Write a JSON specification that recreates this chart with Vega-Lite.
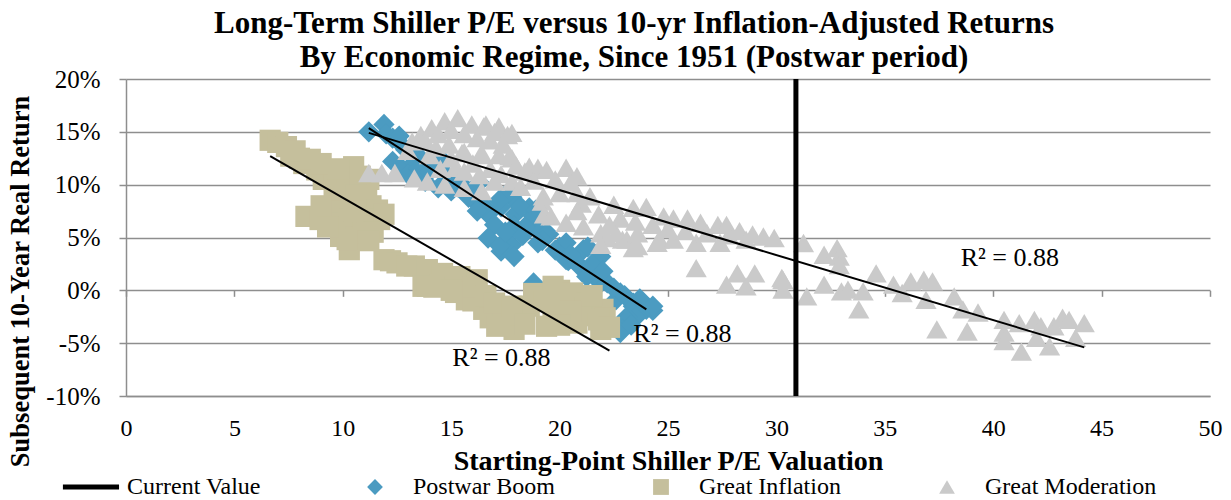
{
  "$schema": "https://vega.github.io/schema/vega-lite/v6.json",
  "width": 1084,
  "height": 317,
  "autosize": {"type": "none"},
  "padding": {"left": 126, "top": 79, "right": 21, "bottom": 104},
  "background": "white",
  "config": {"view": {"stroke": null}, "font": "Liberation Serif"},
  "title": {
    "text": ["Long-Term Shiller P/E versus 10-yr Inflation-Adjusted Returns", "By Economic Regime, Since 1951 (Postwar period)"],
    "font": "Liberation Serif", "fontSize": 31, "fontWeight": "bold", "color": "black",
    "anchor": "middle", "dx": -34, "offset": -7, "lineHeight": 34
  },
  "datasets": {
    "pts": [
      {"s":"Postwar Boom","x":11.2,"y":15.0},{"s":"Postwar Boom","x":11.9,"y":15.7},{"s":"Postwar Boom","x":12.0,"y":14.8},{"s":"Postwar Boom","x":12.3,"y":14.4},{"s":"Postwar Boom","x":12.7,"y":13.8},{"s":"Postwar Boom","x":12.9,"y":13.3},{"s":"Postwar Boom","x":12.3,"y":12.2},{"s":"Postwar Boom","x":12.7,"y":11.6},{"s":"Postwar Boom","x":13.3,"y":12.1},{"s":"Postwar Boom","x":13.6,"y":12.5},{"s":"Postwar Boom","x":14.3,"y":12.2},{"s":"Postwar Boom","x":14.7,"y":12.1},{"s":"Postwar Boom","x":13.8,"y":10.3},{"s":"Postwar Boom","x":14.4,"y":9.7},{"s":"Postwar Boom","x":15.0,"y":9.4},{"s":"Postwar Boom","x":15.5,"y":10.0},{"s":"Postwar Boom","x":15.2,"y":10.7},{"s":"Postwar Boom","x":16.3,"y":10.2},{"s":"Postwar Boom","x":15.95,"y":8.7},{"s":"Postwar Boom","x":15.8,"y":8.8},{"s":"Postwar Boom","x":16.7,"y":7.2},{"s":"Postwar Boom","x":17.0,"y":6.2},{"s":"Postwar Boom","x":16.7,"y":4.95},{"s":"Postwar Boom","x":17.3,"y":3.7},{"s":"Postwar Boom","x":17.8,"y":4.3},{"s":"Postwar Boom","x":17.95,"y":7.2},{"s":"Postwar Boom","x":17.3,"y":7.9},{"s":"Postwar Boom","x":17.8,"y":8.8},{"s":"Postwar Boom","x":18.6,"y":7.8},{"s":"Postwar Boom","x":18.9,"y":5.9},{"s":"Postwar Boom","x":19.5,"y":5.3},{"s":"Postwar Boom","x":17.6,"y":9.2},{"s":"Postwar Boom","x":18.2,"y":7.9},{"s":"Postwar Boom","x":18.8,"y":7.0},{"s":"Postwar Boom","x":18.9,"y":7.6},{"s":"Postwar Boom","x":17.9,"y":6.05},{"s":"Postwar Boom","x":18.4,"y":6.0},{"s":"Postwar Boom","x":17.9,"y":3.2},{"s":"Postwar Boom","x":17.25,"y":4.2},{"s":"Postwar Boom","x":19.4,"y":5.4},{"s":"Postwar Boom","x":19.2,"y":4.7},{"s":"Postwar Boom","x":20.0,"y":4.1},{"s":"Postwar Boom","x":20.3,"y":4.5},{"s":"Postwar Boom","x":21.1,"y":3.85},{"s":"Postwar Boom","x":21.3,"y":4.1},{"s":"Postwar Boom","x":21.9,"y":3.2},{"s":"Postwar Boom","x":20.4,"y":2.8},{"s":"Postwar Boom","x":20.3,"y":2.9},{"s":"Postwar Boom","x":20.9,"y":2.3},{"s":"Postwar Boom","x":20.8,"y":2.6},{"s":"Postwar Boom","x":21.6,"y":1.3},{"s":"Postwar Boom","x":21.25,"y":1.3},{"s":"Postwar Boom","x":21.9,"y":0.7},{"s":"Postwar Boom","x":22.2,"y":0.7},{"s":"Postwar Boom","x":22.8,"y":-0.25},{"s":"Postwar Boom","x":22.6,"y":-0.9},{"s":"Postwar Boom","x":23.4,"y":-1.2},{"s":"Postwar Boom","x":23.4,"y":-1.5},{"s":"Postwar Boom","x":23.9,"y":-1.3},{"s":"Postwar Boom","x":24.0,"y":-1.8},{"s":"Postwar Boom","x":24.3,"y":-1.9},{"s":"Postwar Boom","x":23.5,"y":-2.6},{"s":"Postwar Boom","x":23.1,"y":-2.5},{"s":"Postwar Boom","x":23.1,"y":-2.8},{"s":"Postwar Boom","x":22.9,"y":-3.7},{"s":"Postwar Boom","x":22.8,"y":-4.0},{"s":"Postwar Boom","x":18.8,"y":0.7},
      {"s":"Postwar Boom","x":13.0,"y":11.0},{"s":"Postwar Boom","x":13.5,"y":11.5},{"s":"Postwar Boom","x":14.0,"y":11.2},{"s":"Postwar Boom","x":14.8,"y":10.8},{"s":"Postwar Boom","x":15.3,"y":9.8},{"s":"Postwar Boom","x":16.0,"y":9.5},{"s":"Postwar Boom","x":16.5,"y":8.0},{"s":"Postwar Boom","x":17.2,"y":8.5},{"s":"Postwar Boom","x":16.2,"y":7.5},{"s":"Postwar Boom","x":17.5,"y":5.5},{"s":"Postwar Boom","x":18.3,"y":5.2},{"s":"Postwar Boom","x":19.0,"y":4.5},{"s":"Postwar Boom","x":19.8,"y":3.8},{"s":"Postwar Boom","x":20.5,"y":3.4},{"s":"Postwar Boom","x":21.5,"y":2.5},{"s":"Postwar Boom","x":22.0,"y":1.8},{"s":"Postwar Boom","x":22.5,"y":0.2},{"s":"Postwar Boom","x":23.0,"y":-0.5},{"s":"Postwar Boom","x":23.7,"y":-0.8},{"s":"Postwar Boom","x":24.3,"y":-1.5},{"s":"Postwar Boom","x":23.3,"y":-3.3},{"s":"Postwar Boom","x":12.6,"y":14.6},{"s":"Postwar Boom","x":13.2,"y":13.6},
      {"s":"Great Inflation","x":6.65,"y":14.2},{"s":"Great Inflation","x":7.0,"y":14.0},{"s":"Great Inflation","x":7.4,"y":13.6},{"s":"Great Inflation","x":7.6,"y":12.7},{"s":"Great Inflation","x":8.0,"y":12.5},{"s":"Great Inflation","x":8.2,"y":12.0},{"s":"Great Inflation","x":8.8,"y":11.4},{"s":"Great Inflation","x":9.3,"y":11.2},{"s":"Great Inflation","x":9.1,"y":10.5},{"s":"Great Inflation","x":9.6,"y":10.8},{"s":"Great Inflation","x":10.5,"y":11.7},{"s":"Great Inflation","x":10.3,"y":10.2},{"s":"Great Inflation","x":10.2,"y":9.6},{"s":"Great Inflation","x":9.6,"y":9.2},{"s":"Great Inflation","x":11.1,"y":9.5},{"s":"Great Inflation","x":10.95,"y":8.6},{"s":"Great Inflation","x":10.0,"y":8.3},{"s":"Great Inflation","x":11.3,"y":8.0},{"s":"Great Inflation","x":11.6,"y":7.6},{"s":"Great Inflation","x":11.7,"y":6.7},{"s":"Great Inflation","x":9.4,"y":7.5},{"s":"Great Inflation","x":8.3,"y":7.0},{"s":"Great Inflation","x":8.95,"y":6.7},{"s":"Great Inflation","x":9.7,"y":6.4},{"s":"Great Inflation","x":10.0,"y":6.0},{"s":"Great Inflation","x":10.3,"y":6.7},{"s":"Great Inflation","x":11.1,"y":6.05},{"s":"Great Inflation","x":9.9,"y":5.1},{"s":"Great Inflation","x":10.6,"y":5.0},{"s":"Great Inflation","x":10.3,"y":3.85},{"s":"Great Inflation","x":10.95,"y":5.4},{"s":"Great Inflation","x":11.9,"y":2.9},{"s":"Great Inflation","x":12.2,"y":2.8},{"s":"Great Inflation","x":12.5,"y":2.6},{"s":"Great Inflation","x":12.95,"y":2.3},{"s":"Great Inflation","x":13.3,"y":2.3},{"s":"Great Inflation","x":13.9,"y":1.96},{"s":"Great Inflation","x":13.9,"y":1.3},{"s":"Great Inflation","x":13.7,"y":0.38},{"s":"Great Inflation","x":13.9,"y":0.38},{"s":"Great Inflation","x":14.6,"y":1.6},{"s":"Great Inflation","x":14.5,"y":0.5},{"s":"Great Inflation","x":15.0,"y":1.2},{"s":"Great Inflation","x":15.4,"y":1.3},{"s":"Great Inflation","x":16.2,"y":1.0},{"s":"Great Inflation","x":15.2,"y":-0.2},{"s":"Great Inflation","x":15.7,"y":-0.9},{"s":"Great Inflation","x":16.0,"y":-1.0},{"s":"Great Inflation","x":16.5,"y":-1.8},{"s":"Great Inflation","x":16.8,"y":-2.6},{"s":"Great Inflation","x":17.4,"y":-2.1},{"s":"Great Inflation","x":17.6,"y":-3.0},{"s":"Great Inflation","x":17.9,"y":-3.7},{"s":"Great Inflation","x":17.1,"y":-3.4},{"s":"Great Inflation","x":18.2,"y":-2.3},{"s":"Great Inflation","x":18.6,"y":-1.5},{"s":"Great Inflation","x":18.8,"y":-0.3},{"s":"Great Inflation","x":19.0,"y":-0.6},{"s":"Great Inflation","x":19.7,"y":0.38},{"s":"Great Inflation","x":20.0,"y":0.0},{"s":"Great Inflation","x":20.6,"y":-0.25},{"s":"Great Inflation","x":20.2,"y":-1.6},{"s":"Great Inflation","x":21.25,"y":-1.2},{"s":"Great Inflation","x":22.0,"y":-1.8},{"s":"Great Inflation","x":19.7,"y":-2.5},{"s":"Great Inflation","x":21.0,"y":-2.4},{"s":"Great Inflation","x":20.8,"y":-3.1},{"s":"Great Inflation","x":22.1,"y":-2.6},{"s":"Great Inflation","x":21.9,"y":-3.7},
      {"s":"Great Inflation","x":7.8,"y":13.2},{"s":"Great Inflation","x":8.5,"y":12.4},{"s":"Great Inflation","x":9.0,"y":12.0},{"s":"Great Inflation","x":9.8,"y":11.5},{"s":"Great Inflation","x":10.8,"y":10.8},{"s":"Great Inflation","x":11.2,"y":10.5},{"s":"Great Inflation","x":10.6,"y":9.0},{"s":"Great Inflation","x":9.0,"y":8.0},{"s":"Great Inflation","x":10.5,"y":7.5},{"s":"Great Inflation","x":11.9,"y":7.2},{"s":"Great Inflation","x":11.4,"y":5.5},{"s":"Great Inflation","x":10.2,"y":4.8},{"s":"Great Inflation","x":9.3,"y":6.0},{"s":"Great Inflation","x":11.2,"y":4.7},{"s":"Great Inflation","x":14.2,"y":0.3},{"s":"Great Inflation","x":15.0,"y":0.0},{"s":"Great Inflation","x":16.0,"y":0.3},{"s":"Great Inflation","x":16.6,"y":-0.5},{"s":"Great Inflation","x":17.0,"y":-1.2},{"s":"Great Inflation","x":17.8,"y":-1.5},{"s":"Great Inflation","x":18.4,"y":-3.2},{"s":"Great Inflation","x":19.3,"y":-1.0},{"s":"Great Inflation","x":20.5,"y":-2.0},{"s":"Great Inflation","x":21.5,"y":-0.5},{"s":"Great Inflation","x":21.8,"y":-2.8},{"s":"Great Inflation","x":22.3,"y":-3.5},{"s":"Great Inflation","x":20.0,"y":-3.3},{"s":"Great Inflation","x":19.4,"y":-3.4},
      {"s":"Great Moderation","x":11.2,"y":11.1},{"s":"Great Moderation","x":11.8,"y":11.1},{"s":"Great Moderation","x":12.4,"y":11.1},{"s":"Great Moderation","x":13.3,"y":10.6},{"s":"Great Moderation","x":13.9,"y":10.3},{"s":"Great Moderation","x":14.7,"y":10.0},{"s":"Great Moderation","x":13.2,"y":14.1},{"s":"Great Moderation","x":13.6,"y":14.7},{"s":"Great Moderation","x":14.1,"y":15.35},{"s":"Great Moderation","x":14.7,"y":16.0},{"s":"Great Moderation","x":15.3,"y":16.3},{"s":"Great Moderation","x":15.95,"y":15.7},{"s":"Great Moderation","x":16.5,"y":15.5},{"s":"Great Moderation","x":16.6,"y":15.7},{"s":"Great Moderation","x":17.2,"y":15.5},{"s":"Great Moderation","x":17.0,"y":15.0},{"s":"Great Moderation","x":17.6,"y":14.7},{"s":"Great Moderation","x":17.8,"y":14.9},{"s":"Great Moderation","x":14.3,"y":13.5},{"s":"Great Moderation","x":14.9,"y":13.8},{"s":"Great Moderation","x":15.6,"y":13.1},{"s":"Great Moderation","x":15.5,"y":13.0},{"s":"Great Moderation","x":16.4,"y":12.8},{"s":"Great Moderation","x":16.4,"y":13.0},{"s":"Great Moderation","x":17.2,"y":12.8},{"s":"Great Moderation","x":17.8,"y":12.5},{"s":"Great Moderation","x":17.7,"y":12.7},{"s":"Great Moderation","x":15.2,"y":11.6},{"s":"Great Moderation","x":15.6,"y":11.25},{"s":"Great Moderation","x":16.3,"y":10.9},{"s":"Great Moderation","x":17.0,"y":10.3},{"s":"Great Moderation","x":17.8,"y":10.3},{"s":"Great Moderation","x":15.6,"y":9.7},{"s":"Great Moderation","x":16.4,"y":9.4},{"s":"Great Moderation","x":18.4,"y":11.25},{"s":"Great Moderation","x":18.6,"y":11.7},{"s":"Great Moderation","x":19.0,"y":11.6},{"s":"Great Moderation","x":19.4,"y":11.4},{"s":"Great Moderation","x":20.3,"y":11.6},{"s":"Great Moderation","x":18.2,"y":9.8},{"s":"Great Moderation","x":19.25,"y":8.9},{"s":"Great Moderation","x":19.2,"y":8.4},{"s":"Great Moderation","x":20.0,"y":9.2},{"s":"Great Moderation","x":20.8,"y":9.2},{"s":"Great Moderation","x":21.4,"y":8.9},{"s":"Great Moderation","x":19.3,"y":7.2},{"s":"Great Moderation","x":19.6,"y":7.0},{"s":"Great Moderation","x":20.3,"y":6.4},{"s":"Great Moderation","x":21.1,"y":6.05},{"s":"Great Moderation","x":21.9,"y":5.4},{"s":"Great Moderation","x":22.5,"y":8.1},{"s":"Great Moderation","x":23.4,"y":7.8},{"s":"Great Moderation","x":24.0,"y":7.9},{"s":"Great Moderation","x":24.8,"y":7.0},{"s":"Great Moderation","x":25.25,"y":6.8},{"s":"Great Moderation","x":25.9,"y":6.8},{"s":"Great Moderation","x":26.5,"y":6.4},{"s":"Great Moderation","x":27.3,"y":6.2},{"s":"Great Moderation","x":27.7,"y":6.2},{"s":"Great Moderation","x":28.3,"y":5.6},{"s":"Great Moderation","x":28.9,"y":5.3},{"s":"Great Moderation","x":29.4,"y":5.1},{"s":"Great Moderation","x":29.9,"y":4.95},{"s":"Great Moderation","x":22.2,"y":4.95},{"s":"Great Moderation","x":22.6,"y":5.4},{"s":"Great Moderation","x":21.9,"y":4.3},{"s":"Great Moderation","x":22.9,"y":4.8},{"s":"Great Moderation","x":23.1,"y":4.8},{"s":"Great Moderation","x":23.4,"y":4.0},{"s":"Great Moderation","x":23.6,"y":5.4},{"s":"Great Moderation","x":23.6,"y":4.2},{"s":"Great Moderation","x":24.5,"y":4.5},{"s":"Great Moderation","x":24.6,"y":4.8},{"s":"Great Moderation","x":25.25,"y":4.8},{"s":"Great Moderation","x":26.3,"y":4.5},{"s":"Great Moderation","x":27.4,"y":4.5},{"s":"Great Moderation","x":26.3,"y":2.1},{"s":"Great Moderation","x":27.7,"y":0.54},{"s":"Great Moderation","x":28.2,"y":1.6},{"s":"Great Moderation","x":28.6,"y":0.38},{"s":"Great Moderation","x":29.0,"y":1.6},{"s":"Great Moderation","x":30.3,"y":1.0},{"s":"Great Moderation","x":30.3,"y":0.07},{"s":"Great Moderation","x":30.25,"y":1.17},{"s":"Great Moderation","x":31.25,"y":4.48},{"s":"Great Moderation","x":32.2,"y":3.37},{"s":"Great Moderation","x":32.8,"y":4.0},{"s":"Great Moderation","x":32.9,"y":3.2},{"s":"Great Moderation","x":32.9,"y":2.4},{"s":"Great Moderation","x":31.4,"y":-0.57},{"s":"Great Moderation","x":32.2,"y":0.54},{"s":"Great Moderation","x":33.0,"y":-0.1},{"s":"Great Moderation","x":33.3,"y":0.07},{"s":"Great Moderation","x":33.8,"y":-1.8},{"s":"Great Moderation","x":34.0,"y":-0.1},{"s":"Great Moderation","x":34.6,"y":1.6},{"s":"Great Moderation","x":35.4,"y":0.54},{"s":"Great Moderation","x":35.8,"y":-0.25},{"s":"Great Moderation","x":36.2,"y":0.85},{"s":"Great Moderation","x":36.8,"y":1.0},{"s":"Great Moderation","x":37.2,"y":0.85},{"s":"Great Moderation","x":36.9,"y":-0.9},{"s":"Great Moderation","x":37.4,"y":-3.7},{"s":"Great Moderation","x":38.2,"y":-0.57},{"s":"Great Moderation","x":38.6,"y":-1.8},{"s":"Great Moderation","x":38.8,"y":-3.9},{"s":"Great Moderation","x":39.3,"y":-2.1},{"s":"Great Moderation","x":40.5,"y":-2.8},{"s":"Great Moderation","x":40.5,"y":-4.0},{"s":"Great Moderation","x":40.5,"y":-4.8},{"s":"Great Moderation","x":41.3,"y":-5.8},{"s":"Great Moderation","x":41.2,"y":-3.1},{"s":"Great Moderation","x":41.9,"y":-2.8},{"s":"Great Moderation","x":42.2,"y":-3.4},{"s":"Great Moderation","x":42.0,"y":-4.5},{"s":"Great Moderation","x":42.6,"y":-5.3},{"s":"Great Moderation","x":42.8,"y":-3.4},{"s":"Great Moderation","x":43.2,"y":-2.6},{"s":"Great Moderation","x":43.5,"y":-2.8},{"s":"Great Moderation","x":43.8,"y":-4.5},{"s":"Great Moderation","x":44.2,"y":-3.1},
      {"s":"Great Moderation","x":13.8,"y":14.2},{"s":"Great Moderation","x":14.4,"y":14.8},{"s":"Great Moderation","x":15.0,"y":15.2},{"s":"Great Moderation","x":15.6,"y":14.8},{"s":"Great Moderation","x":16.2,"y":14.4},{"s":"Great Moderation","x":16.8,"y":14.2},{"s":"Great Moderation","x":17.4,"y":13.8},{"s":"Great Moderation","x":13.0,"y":13.2},{"s":"Great Moderation","x":14.0,"y":12.8},{"s":"Great Moderation","x":15.0,"y":12.5},{"s":"Great Moderation","x":16.0,"y":12.0},{"s":"Great Moderation","x":14.5,"y":11.5},{"s":"Great Moderation","x":16.8,"y":11.5},{"s":"Great Moderation","x":17.3,"y":11.0},{"s":"Great Moderation","x":18.0,"y":11.8},{"s":"Great Moderation","x":19.8,"y":10.5},{"s":"Great Moderation","x":20.5,"y":10.2},{"s":"Great Moderation","x":21.0,"y":8.2},{"s":"Great Moderation","x":21.8,"y":7.2},{"s":"Great Moderation","x":22.8,"y":6.8},{"s":"Great Moderation","x":23.5,"y":6.5},{"s":"Great Moderation","x":24.3,"y":6.2},{"s":"Great Moderation","x":25.0,"y":5.8},{"s":"Great Moderation","x":25.8,"y":5.6},{"s":"Great Moderation","x":26.8,"y":5.4},{"s":"Great Moderation","x":27.8,"y":5.2},{"s":"Great Moderation","x":28.6,"y":4.8},{"s":"Great Moderation","x":22.3,"y":6.2},{"s":"Great Moderation","x":20.8,"y":7.5},{"s":"Great Moderation","x":18.8,"y":10.4},{"s":"Great Moderation","x":20.8,"y":10.8}
    ],
    "trend": [
      {"s":"Postwar Boom","x":11.2,"y":15.35},{"s":"Postwar Boom","x":24.0,"y":-1.8},
      {"s":"Great Inflation","x":6.65,"y":12.7},{"s":"Great Inflation","x":22.3,"y":-5.7},
      {"s":"Great Moderation","x":11.2,"y":14.9},{"s":"Great Moderation","x":44.2,"y":-5.4}
    ],
    "labels": [
      {"x":38.5,"y":2.27,"t":"R² = 0.88"},
      {"x":23.4,"y":-4.9,"t":"R² = 0.88"},
      {"x":15.05,"y":-7.2,"t":"R² = 0.88"}
    ],
    "current": [{"x":30.9}]
  },
  "layer": [
    {
      "data": {"name": "pts"},
      "mark": {"type": "point", "filled": true, "opacity": 1, "strokeWidth": 0, "size": 450},
      "encoding": {
        "x": {"field": "x", "type": "quantitative", "scale": {"domain": [0, 50], "nice": false, "zero": false},
          "axis": {"orient": "bottom", "values": [0,5,10,15,20,25,30,35,40,45,50], "format": "d", "grid": false, "ticks": false,
            "domain": true, "domainColor": "#8e8e8e", "domainWidth": 1.5, "labelFont": "Liberation Serif", "labelFontSize": 24,
            "labelColor": "black", "labelPadding": 20, "labelFlush": false, "labelOverlap": false,
            "title": "Starting-Point Shiller P/E Valuation", "titleFont": "Liberation Serif", "titleFontSize": 28,
            "titleFontWeight": "bold", "titleColor": "black", "titleY": 73, "titleBaseline": "alphabetic"}},
        "y": {"field": "y", "type": "quantitative", "scale": {"domain": [-10, 20], "nice": false, "zero": false},
          "axis": {"values": [-10,-5,0,5,10,15,20], "labelExpr": "datum.value + '%'", "grid": true, "gridColor": "#8e8e8e",
            "gridWidth": 1.5, "domainColor": "#8e8e8e", "domainWidth": 1.5, "tickColor": "#8e8e8e", "tickSize": 7, "tickWidth": 1.5,
            "labelFont": "Liberation Serif", "labelFontSize": 25, "labelPadding": 19, "labelColor": "black", "labelOverlap": false,
            "title": "Subsequent 10-Year Real Return", "titleFont": "Liberation Serif", "titleFontSize": 26.5, "titleFontWeight": "bold",
            "titleColor": "black", "titleX": -106, "titleY": 202, "titleAngle": -90, "titleAlign": "center", "titleBaseline": "middle"}},
        "color": {"field": "s", "type": "nominal",
          "scale": {"domain": ["Current Value", "Postwar Boom", "Great Inflation", "Great Moderation"], "range": ["#000000", "#4B9BC1", "#C5BF9C", "#CACACA"]},
          "legend": {"title": null, "orient": "none", "legendX": -49, "legendY": 396, "direction": "horizontal", "columns": 4,
            "symbolSize": 250, "labelFont": "Liberation Serif", "labelFontSize": 24, "labelColor": "black", "labelOffset": 26,
            "columnPadding": 64, "gridAlign": "all", "labelLimit": 300}},
        "shape": {"field": "s", "type": "nominal",
          "scale": {"domain": ["Current Value", "Postwar Boom", "Great Inflation", "Great Moderation"], "range": ["M-3.3,-0.32L3.8,-0.32L3.8,0.32L-3.3,0.32Z", "diamond", "square", "triangle-up"]},
          "legend": {"title": null, "orient": "none", "legendX": -49, "legendY": 396, "direction": "horizontal", "columns": 4,
            "symbolSize": 250, "labelFont": "Liberation Serif", "labelFontSize": 24, "labelColor": "black", "labelOffset": 26,
            "columnPadding": 64, "gridAlign": "all", "labelLimit": 300}}
      }
    },
    {
      "data": {"name": "trend"},
      "mark": {"type": "line", "color": "black", "strokeWidth": 2},
      "encoding": {
        "x": {"field": "x", "type": "quantitative", "axis": null},
        "y": {"field": "y", "type": "quantitative"},
        "detail": {"field": "s", "type": "nominal"}
      }
    },
    {
      "data": {"name": "current"},
      "mark": {"type": "rule", "color": "black", "strokeWidth": 5},
      "encoding": {
        "x": {"field": "x", "type": "quantitative",
          "axis": {"orient": "bottom", "offset": -105.67, "values": [0,5,10,15,20,25,30,35,40,45,50], "labels": false, "grid": false,
            "domain": false, "ticks": true, "tickSize": 6, "tickColor": "#8e8e8e", "tickWidth": 1.5, "title": null}}
      }
    },
    {
      "data": {"name": "labels"},
      "mark": {"type": "text", "align": "left", "baseline": "alphabetic", "font": "Liberation Serif", "fontSize": 26, "color": "black"},
      "encoding": {
        "x": {"field": "x", "type": "quantitative", "axis": null},
        "y": {"field": "y", "type": "quantitative"},
        "text": {"field": "t", "type": "nominal"}
      }
    }
  ],
  "resolve": {"axis": {"x": "independent"}}
}
